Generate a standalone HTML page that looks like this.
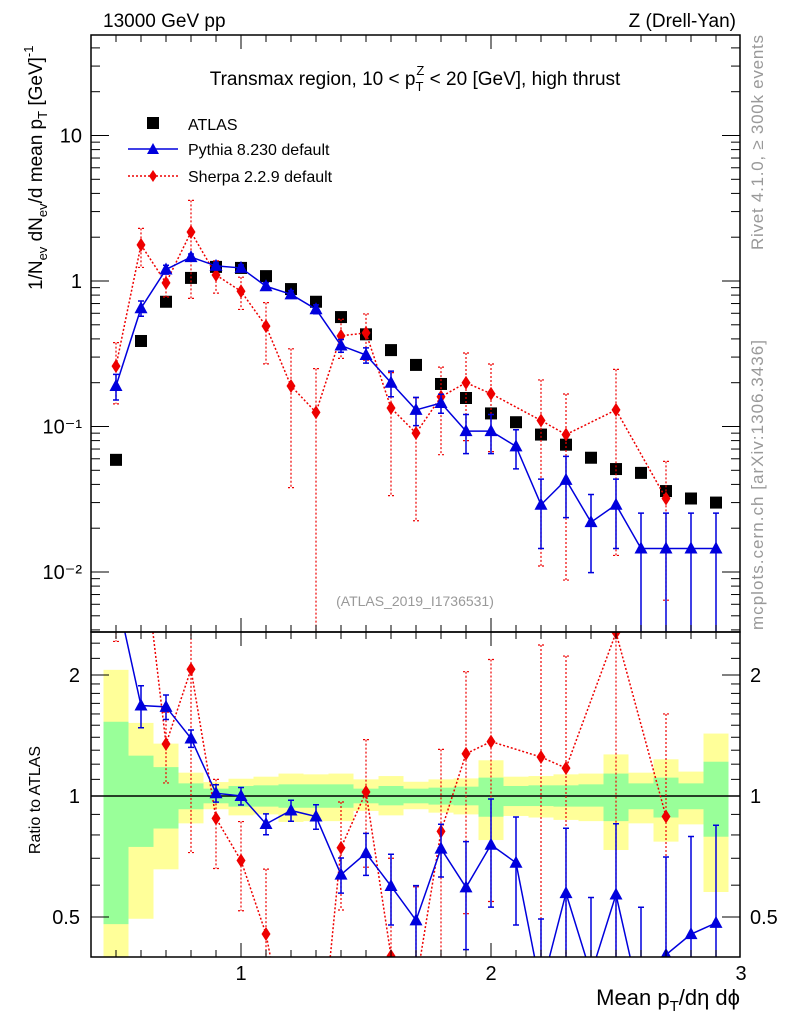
<!DOCTYPE html>
<html><head><meta charset="utf-8"><style>
html,body{margin:0;background:#fff;overflow:hidden;width:786px;height:1024px;}
svg{display:block;font-family:"Liberation Sans","DejaVu Sans",sans-serif;}
</style></head><body>
<svg id="c" width="786" height="1024" viewBox="0 0 786 1024" xmlns="http://www.w3.org/2000/svg">
<defs>
<clipPath id="cm"><rect x="91" y="35" width="649" height="597"/></clipPath>
<clipPath id="cr"><rect x="91" y="632" width="649" height="325"/></clipPath>
</defs>
<g id="bands" clip-path="url(#cr)"></g>
<g id="main" clip-path="url(#cm)"></g>
<g id="ratio" clip-path="url(#cr)"></g>
<g id="axes"></g>
<text x="103" y="27" font-size="19">13000 GeV pp</text>
<text x="736" y="27" font-size="19" text-anchor="end">Z (Drell-Yan)</text>
<text x="415" y="85" font-size="19" text-anchor="middle">Transmax region, 10 &lt; p<tspan font-size="13" dy="6">T</tspan><tspan font-size="13" dx="-7" dy="-16">Z</tspan><tspan dy="10"> &lt; 20 [GeV], high thrust</tspan></text>
<text x="415" y="606" font-size="14" fill="#999" text-anchor="middle">(ATLAS_2019_I1736531)</text>
<text transform="translate(763,250) rotate(-90)" font-size="17" fill="#999" textLength="215" lengthAdjust="spacing">Rivet 4.1.0, ≥ 300k events</text>
<text transform="translate(763,630) rotate(-90)" font-size="17" fill="#999" textLength="290" lengthAdjust="spacing">mcplots.cern.ch [arXiv:1306.3436]</text>
<text transform="translate(42,290) rotate(-90)" font-size="19">1/N<tspan font-size="13" dy="5">ev</tspan><tspan dy="-5"> dN</tspan><tspan font-size="13" dy="5">ev</tspan><tspan dy="-5">/d mean p</tspan><tspan font-size="13" dy="5">T</tspan><tspan dy="-5"> [GeV]</tspan><tspan font-size="13" dy="-9">-1</tspan></text>
<text transform="translate(40,800) rotate(-90)" font-size="16" text-anchor="middle">Ratio to ATLAS</text>
<text x="740" y="1005" font-size="22" text-anchor="end">Mean p<tspan font-size="15" dy="6">T</tspan><tspan dy="-6">/dη dϕ</tspan></text>
<g>
<rect x="147" y="117" width="12" height="12" fill="#000"/>
<text x="188" y="130" font-size="16">ATLAS</text>
<line x1="128" y1="149" x2="178" y2="149" stroke="#0000dd" stroke-width="1.5"/>
<path d="M153,143 L159,154 L147,154 Z" fill="#0000dd"/>
<text x="188" y="155" font-size="16">Pythia 8.230 default</text>
<line x1="128" y1="176" x2="178" y2="176" stroke="#ee0000" stroke-width="1.5" stroke-dasharray="2,2"/>
<path d="M153,170 L157,176 L153,182 L149,176 Z" fill="#ee0000"/>
<text x="188" y="182" font-size="16">Sherpa 2.2.9 default</text>
</g>
</svg>
<script>
const xVals=[0.5,0.6,0.7,0.8,0.9,1.0,1.1,1.2,1.3,1.4,1.5,1.6,1.7,1.8,1.9,2.0,2.1,2.2,2.3,2.4,2.5,2.6,2.7,2.8,2.9];
const atlasVals=[0.059,0.387,0.72,1.05,1.25,1.23,1.08,0.88,0.72,0.565,0.43,0.335,0.265,0.196,0.157,0.123,0.107,0.088,0.075,0.061,0.051,0.048,0.036,0.032,0.030];
const pythiaVals=[0.19,0.65,1.2,1.46,1.27,1.23,0.92,0.81,0.64,0.36,0.31,0.2,0.13,0.145,0.093,0.093,0.073,0.029,0.043,0.022,0.029,0.0145,0.0145,0.0145,0.0145];
const pythiaErr=[0.2,0.12,0.07,0.05,0.05,0.05,0.06,0.06,0.07,0.1,0.12,0.2,0.22,0.15,0.3,0.3,0.3,0.5,0.45,0.55,0.5,0.75,0.75,0.75,0.75];
const sherpaVals=[0.26,1.77,0.97,2.17,1.1,0.85,0.49,0.19,0.125,0.42,0.44,0.134,0.09,0.16,0.2,0.168,null,0.11,0.088,null,0.13,null,0.032,null,null];
const sherpaErr=[0.45,0.3,0.2,0.65,0.25,0.25,0.45,0.8,1.0,0.3,0.35,0.75,0.75,0.6,0.6,0.6,null,0.9,0.9,null,0.9,null,0.8,null,null];
const bandYellowUp=[2.06,1.52,1.35,1.143,1.083,1.104,1.117,1.137,1.132,1.137,1.1,1.121,1.085,1.1,1.106,1.227,1.117,1.121,1.132,1.137,1.269,1.143,1.234,1.15,1.43];
const bandGreenUp=[1.53,1.26,1.18,1.075,1.043,1.059,1.063,1.069,1.069,1.069,1.043,1.059,1.043,1.049,1.055,1.111,1.059,1.063,1.063,1.069,1.137,1.075,1.111,1.075,1.217];
const bandGreenDn=[0.48,0.747,0.83,0.927,0.959,0.941,0.941,0.935,0.935,0.935,0.959,0.948,0.959,0.952,0.948,0.888,0.944,0.944,0.941,0.941,0.866,0.927,0.884,0.927,0.792];
const bandYellowDn=[0.33,0.495,0.657,0.855,0.927,0.895,0.9,0.862,0.866,0.866,0.918,0.895,0.927,0.909,0.9,0.777,0.892,0.884,0.872,0.866,0.734,0.855,0.77,0.85,0.577];
const xTicks=[1,2,3];
const mainTicks=[0.01,0.1,1,10];
const mainTickLabels=["10\u207B\u00B2","10\u207B\u00B9","1","10"];
const ratioTicks=[0.5,1,2];
const ratioTickLabels=["0.5","1","2"];

const NS="http://www.w3.org/2000/svg";
const X=v=>91+(v-0.4)*250;
const YM=v=>281-145.5*Math.log10(v);
const YR=r=>796-121*Math.log2(r);
function mk(parent,tag,attrs){const e=document.createElementNS(NS,tag);for(const k in attrs)e.setAttribute(k,attrs[k]);document.getElementById(parent).appendChild(e);return e;}
const BOT_M=0.002, BOT_R=0.2;

xVals.forEach((x,i)=>{
  let e=mk('bands','rect',{x:X(x-0.05),y:YR(bandYellowUp[i]),width:25,height:YR(bandYellowDn[i])-YR(bandYellowUp[i]),fill:'#ffff99'});
  
  
  e=mk('bands','rect',{x:X(x-0.05),y:YR(bandGreenUp[i]),width:25,height:YR(bandGreenDn[i])-YR(bandGreenUp[i]),fill:'#99ff99'});
  
  
});
let ln=mk('bands','line',{x1:91,x2:740,y1:YR(1),y2:YR(1),stroke:'#000','stroke-width':1.5});



function series(g,Y,vals,errs,color,dash,marker,name,ref){
  let pts=[];
  xVals.forEach((x,i)=>{ if(vals[i]==null) return; const v=ref?vals[i]/ref[i]:vals[i]; pts.push([X(x),Y(v)]); });
  let p=mk(g,'polyline',{points:pts.map(p=>p.join(',')).join(' '),fill:'none',stroke:color,'stroke-width':1.5,'stroke-dasharray':dash});
  
  
  xVals.forEach((x,i)=>{
    if(vals[i]==null) return;
    const v=ref?vals[i]/ref[i]:vals[i];
    const lo=Math.max(v*(1-errs[i]), ref?BOT_R*0.5:BOT_M*0.5), hi=v*(1+errs[i]);
    const cx=X(x);
    let eb=mk(g,'path',{d:`M${cx},${Y(hi)}L${cx},${Y(lo)}M${cx-3},${Y(hi)}L${cx+3},${Y(hi)}M${cx-3},${Y(lo)}L${cx+3},${Y(lo)}`,stroke:color,'stroke-width':dash==='none'?1.5:1.2,'stroke-dasharray':dash,fill:'none'});
    
    
    const cy=Y(v);
    let m;
    if(marker==='tri') m=mk(g,'path',{d:`M${cx},${cy-7}L${cx+6.5},${cy+5}L${cx-6.5},${cy+5}Z`,fill:color});
    else m=mk(g,'path',{d:`M${cx},${cy-7}L${cx+4.5},${cy}L${cx},${cy+7}L${cx-4.5},${cy}Z`,fill:color});
    
    
  });
}
xVals.forEach((x,i)=>{
  const r=mk('main','rect',{x:X(x)-6,y:YM(atlasVals[i])-6,width:12,height:12,fill:'#000'});
  
  
});
series('main',YM,sherpaVals,sherpaErr,'#ee0000','2,2','dia','sherpa',null);
series('main',YM,pythiaVals,pythiaErr,'#0000dd','none','tri','pythia',null);
series('ratio',YR,sherpaVals,sherpaErr,'#ee0000','2,2','dia','sherpa-ratio',atlasVals);
series('ratio',YR,pythiaVals,pythiaErr,'#0000dd','none','tri','pythia-ratio',atlasVals);

[[35,632,'main-frame'],[632,957,'ratio-frame']].forEach(([t,b,n])=>{
  const r=mk('axes','rect',{x:91,y:t,width:649,height:b-t,fill:'none',stroke:'#000','stroke-width':1.5});
  
  
});
for(let k=5;k<=29;k++){
  const v=k/10, x=X(v), major=(k%10===0), L=major?14:7;
  [[35,1],[632,1],[632,-1],[957,-1]].forEach(([y0,d])=>{
    mk('axes','line',{x1:x,x2:x,y1:y0,y2:y0+d*L,stroke:'#000','stroke-width':1});
  });
}
xTicks.forEach(v=>{
  const t=mk('axes','text',{x:X(v),y:980,'font-size':20,'text-anchor':'middle'});
  t.textContent=String(v);
  
  
});
for(let d=-3;d<=1;d++){
  for(let m=1;m<=9;m++){
    const v=m*Math.pow(10,d), y=YM(v);
    if(y<35||y>632) continue;
    const L=m===1?18:9;
    mk('axes','line',{x1:91,x2:91+L,y1:y,y2:y,stroke:'#000','stroke-width':1});
    mk('axes','line',{x1:740,x2:740-L,y1:y,y2:y,stroke:'#000','stroke-width':1});
  }
}
mainTicks.forEach((v,i)=>{
  const t=mk('axes','text',{x:82,y:YM(v)+7,'font-size':20,'text-anchor':'end'});
  t.textContent=mainTickLabels[i];
  
  
});
[0.5,0.6,0.7,0.8,0.9,1,1.1,1.2,1.3,1.4,1.5,1.6,1.7,1.8,1.9,2,2.2,2.4].forEach(v=>{
  const y=YR(v); if(y<632||y>957) return;
  const L=ratioTicks.includes(v)?18:9;
  mk('axes','line',{x1:91,x2:91+L,y1:y,y2:y,stroke:'#000','stroke-width':1});
  mk('axes','line',{x1:740,x2:740-L,y1:y,y2:y,stroke:'#000','stroke-width':1});
});
ratioTicks.forEach((v,i)=>{
  let t=mk('axes','text',{x:80,y:YR(v)+7,'font-size':20,'text-anchor':'end'});
  t.textContent=ratioTickLabels[i];
  
  
  t=mk('axes','text',{x:750,y:YR(v)+7,'font-size':20,'text-anchor':'start'});
  t.textContent=ratioTickLabels[i];
  
  
});
</script>
</body></html>
